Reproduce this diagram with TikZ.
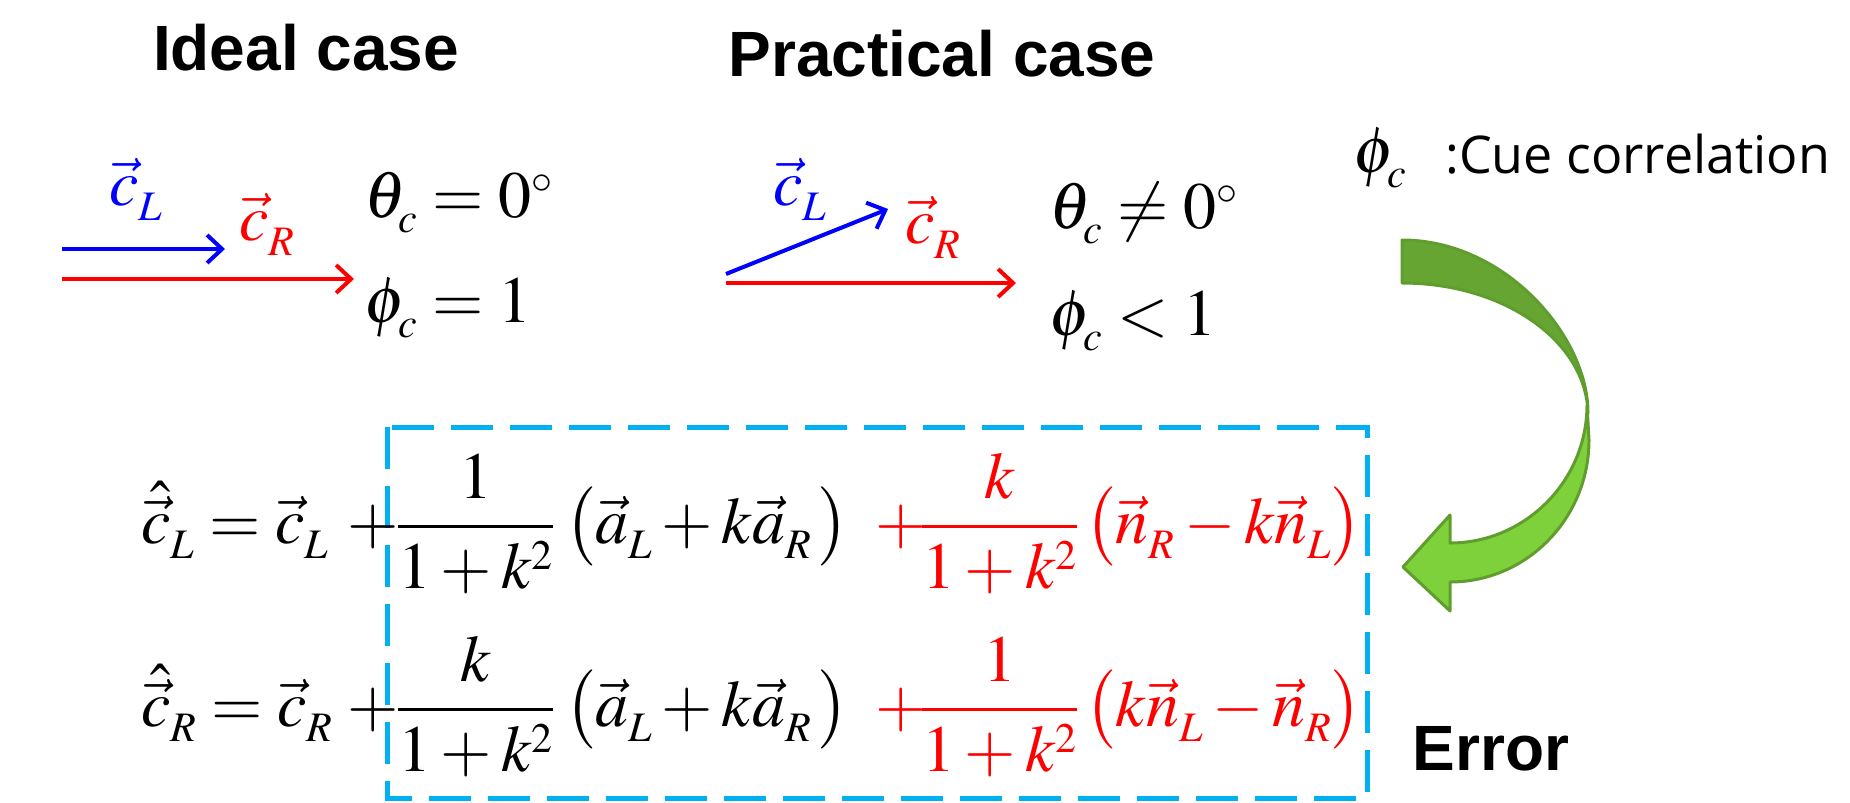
\documentclass[tikz,border=0pt]{standalone}
\usepackage{amsmath}
\usepackage{mathptmx}
\usepackage[no-math]{fontspec}
\newfontfamily\titlefont{Liberation Sans}
\newfontfamily\cuefont{Open Sans}
\usetikzlibrary{arrows.meta}
\DeclareMathSizes{66}{66}{42}{30}
\newcommand\dn[1]{_{\lower6pt\hbox{$\scriptstyle#1$}}}
\definecolor{boxblue}{HTML}{00B0F0}
\definecolor{gdark}{HTML}{66A532}
\definecolor{glight}{HTML}{7FD13B}
\definecolor{gborder}{HTML}{5F9E2E}
\tikzset{
  m/.style={inner sep=0pt, anchor=base west, font=\fontsize{66}{95}\selectfont},
  ttl/.style={inner sep=0pt, anchor=base, font=\titlefont\bfseries\fontsize{64}{70}\selectfont},
  vecarr/.style={line width=4pt, -{Straight Barb[length=15pt,width=28pt]}},
}
\begin{document}
\begin{tikzpicture}[x=1pt,y=1pt]
\path[use as bounding box] (0,0) rectangle (1850,-803);

% titles
\node[ttl] (ideal) at (306,-70) {Ideal case};
\node[ttl] (pract) at (942,-76) {Practical case};
\node[ttl] (err) at (1491,-770) {Error};

% ideal case
\coordinate (iL0) at (62,-249);
\coordinate (iL1) at (225,-249);
\coordinate (iR0) at (62,-279);
\coordinate (iR1) at (354,-279);
\draw[vecarr, blue] (iL0) -- (iL1);
\draw[vecarr, red] (iR0) -- (iR1);
\node[m, text=blue] (icL) at (109,-205) {$\vec{c}\dn{L}$};
\node[m, text=red] (icR) at (239,-240) {$\vec{c}\dn{R}$};
\node[m] (ith) at (364,-217) {$\theta\dn{c}=0^\circ$};
\node[m] (iph) at (364,-322) {$\phi\dn{c}=1$};

% practical case
\coordinate (pL0) at (726,-274);
\coordinate (pL1) at (888,-209);
\coordinate (pR0) at (726,-283);
\coordinate (pR1) at (1016,-283);
\draw[vecarr, blue] (pL0) -- (pL1);
\draw[vecarr, red] (pR0) -- (pR1);
\node[m, text=blue] (pcL) at (773,-205) {$\vec{c}\dn{L}$};
\node[m, text=red] (pcR) at (905,-243) {$\vec{c}\dn{R}$};
\node[m] (pth) at (1049,-228) {$\theta\dn{c}\neq0^\circ$};
\node[m] (pph) at (1049,-335) {$\phi\dn{c}<1$};

% cue correlation
\node[m] (cphi) at (1353,-172) {$\phi\dn{c}$};
\node[inner sep=0pt, anchor=base west, font=\cuefont\fontsize{52}{60}\selectfont] (cue) at (1445,-173) {:Cue correlation};

% green curved arrow
\filldraw[fill=glight, draw=gborder, line width=3pt, line join=round]
  (1587,-405) .. controls (1587,-481) and (1525,-543) .. (1450,-543)
  -- (1450,-515) -- (1403,-567) -- (1450,-611) -- (1450,-582)
  .. controls (1527,-582) and (1589,-518) .. (1589,-440) -- cycle;
\filldraw[fill=gdark, draw=gborder, line width=3pt, line join=round]
  (1402,-240) .. controls (1505,-240) and (1588,-336) .. (1588,-413)
  .. controls (1586,-341) and (1504,-283) .. (1402,-283) -- cycle;

% dashed box
\coordinate (bx0) at (387,-427);
\coordinate (bx1) at (1367,-798);
\draw[boxblue, line width=5pt, dash pattern=on 42pt off 17pt] (bx0) rectangle (bx1);

% equations line 1
\node[m] (l1a) at (141,-543) {$\hat{\vec{c}}\dn{L}=\vec{c}\dn{L}$};
\node[m] (l1p) at (347,-543) {$+$};
\node[m] (l1b) at (397,-543) {$\dfrac{1}{1+k^2}\mkern3mu\bigl(\vec{a}\dn{L}+k\vec{a}\dn{R}\mkern2mu\bigr)$};
\node[m, text=red] (l1c) at (875,-543) {$+$};
\node[m, text=red] (l1d) at (921,-543) {$\dfrac{k}{1+k^2}\mkern2mu\bigl(\vec{n}\dn{R}-k\vec{n}\dn{L}\bigr)$};

% equations line 2
\node[m] (l2a) at (141,-726) {$\hat{\vec{c}}\dn{R}=\vec{c}\dn{R}$};
\node[m] (l2p) at (347,-726) {$+$};
\node[m] (l2b) at (397,-726) {$\dfrac{k}{1+k^2}\mkern3mu\bigl(\vec{a}\dn{L}+k\vec{a}\dn{R}\mkern2mu\bigr)$};
\node[m, text=red] (l2c) at (875,-726) {$+$};
\node[m, text=red] (l2d) at (921,-726) {$\dfrac{1}{1+k^2}\mkern2mu\bigl(k\vec{n}\dn{L}-\vec{n}\dn{R}\bigr)$};
\end{tikzpicture}
\end{document}
